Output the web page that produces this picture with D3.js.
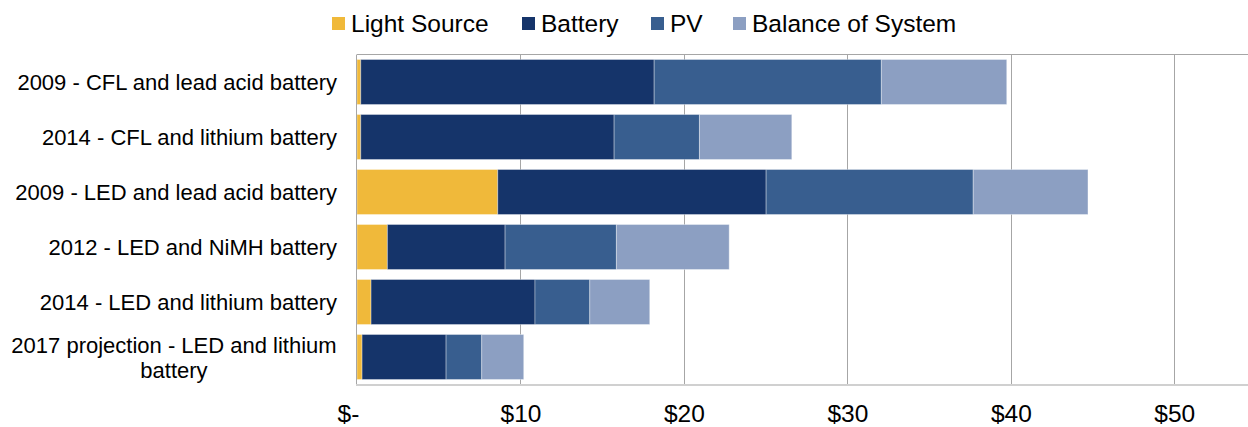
<!DOCTYPE html>
<html><head><meta charset="utf-8">
<script src="https://cdn.jsdelivr.net/npm/d3@7"></script>
<style>body{margin:0;background:#fff}svg{display:block}text{font-family:"Liberation Sans",Arial,sans-serif;fill:#000}</style>
</head><body><svg id="c" width="1248" height="427"></svg>
<script>
const categories = [
  "2009 - CFL and lead acid battery",
  "2014 - CFL and lithium battery",
  "2009 - LED and lead acid battery",
  "2012 - LED and NiMH battery",
  "2014 - LED and lithium battery",
  "2017 projection - LED and lithium battery"
];
const seriesNames = ["Light Source","Battery","PV","Balance of System"];
const lightSource = [0.23, 0.23, 8.61, 1.86, 0.86, 0.31];
const battery     = [17.95, 15.5, 16.42, 7.2, 10.03, 5.14];
const pv          = [13.9, 5.22, 12.67, 6.81, 3.35, 2.18];
const bos         = [7.67, 5.65, 7.02, 6.9, 3.67, 2.57];
const tickValues = [0,10,20,30,40,50];
const tickLabels = ["$-","$10","$20","$30","$40","$50"];
const colors = ["#F0B93A","#15346A","#385E8F","#8C9FC2"];

const svg = d3.select("#c");
const x = d3.scaleLinear().domain([0,55]).range([357,1256]);
const y = d3.scaleBand().domain(categories).range([54.5,384.5]).paddingInner(10/55).paddingOuter(5/55);

const rows = categories.map((c,i)=>({cat:c, vals:[lightSource[i],battery[i],pv[i],bos[i]]}));

// gridlines
svg.append("g").selectAll("line").data(tickValues.slice(1)).join("line")
  .attr("x1",d=>Math.round(x(d))+0.5).attr("x2",d=>Math.round(x(d))+0.5)
  .attr("y1",54.5).attr("y2",384.5).attr("stroke","#a6a6a6").attr("stroke-width",1);
// top border
svg.append("line").attr("x1",357).attr("x2",1248).attr("y1",54.5).attr("y2",54.5).attr("stroke","#a6a6a6");

// bars
const g = svg.append("g");
rows.forEach(r=>{
  let acc=0;
  r.vals.forEach((v,j)=>{
    g.append("rect").attr("x",x(acc)).attr("width",x(acc+v)-x(acc))
      .attr("y",y(r.cat)).attr("height",y.bandwidth())
      .attr("fill",colors[j]).attr("stroke","rgba(255,255,255,0.35)").attr("stroke-width",1);
    acc+=v;
  });
});

// left axis line
svg.append("line").attr("x1",356.5).attr("x2",356.5).attr("y1",54.5).attr("y2",385).attr("stroke","#a6a6a6");
// bottom axis
svg.append("line").attr("x1",356).attr("x2",1248).attr("y1",385).attr("y2",385).attr("stroke","#d0d0d0").attr("stroke-width",2);

// x tick labels
const xAxis = d3.axisBottom(x).tickValues(tickValues).tickFormat((d,i)=>tickLabels[i]).tickSize(0).tickPadding(0);
const ax = svg.append("g").attr("transform","translate(0,405)").call(xAxis);
ax.select(".domain").remove();
ax.selectAll("text").attr("font-size","24.5px").attr("font-family","Liberation Sans, Arial, sans-serif").attr("fill","#000").attr("dy","0.71em")
  .attr("dx",(d,i)=>i===0?-9:0);

// category labels
categories.forEach(c=>{
  const cy = y(c)+y.bandwidth()/2;
  const t = svg.append("text").attr("text-anchor","end").attr("font-size","22px").attr("x",337);
  if(c.startsWith("2017")){
    t.attr("text-anchor","middle").attr("x",174);
    t.append("tspan").attr("x",174).attr("y",cy-12).attr("dy","0.35em").text("2017 projection - LED and lithium");
    t.append("tspan").attr("x",174).attr("y",cy+13).attr("dy","0.35em").text("battery");
  } else {
    t.attr("y",cy).attr("dy","0.35em").text(c);
  }
});

// legend
const legX = [332,522,651,733];
const lg = svg.append("g");
seriesNames.forEach((n,i)=>{
  lg.append("rect").attr("x",legX[i]).attr("y",17).attr("width",13).attr("height",13).attr("fill",colors[i]);
  lg.append("text").attr("x",legX[i]+19).attr("y",32).attr("font-size","24.5px").text(n);
});
</script></body></html>
